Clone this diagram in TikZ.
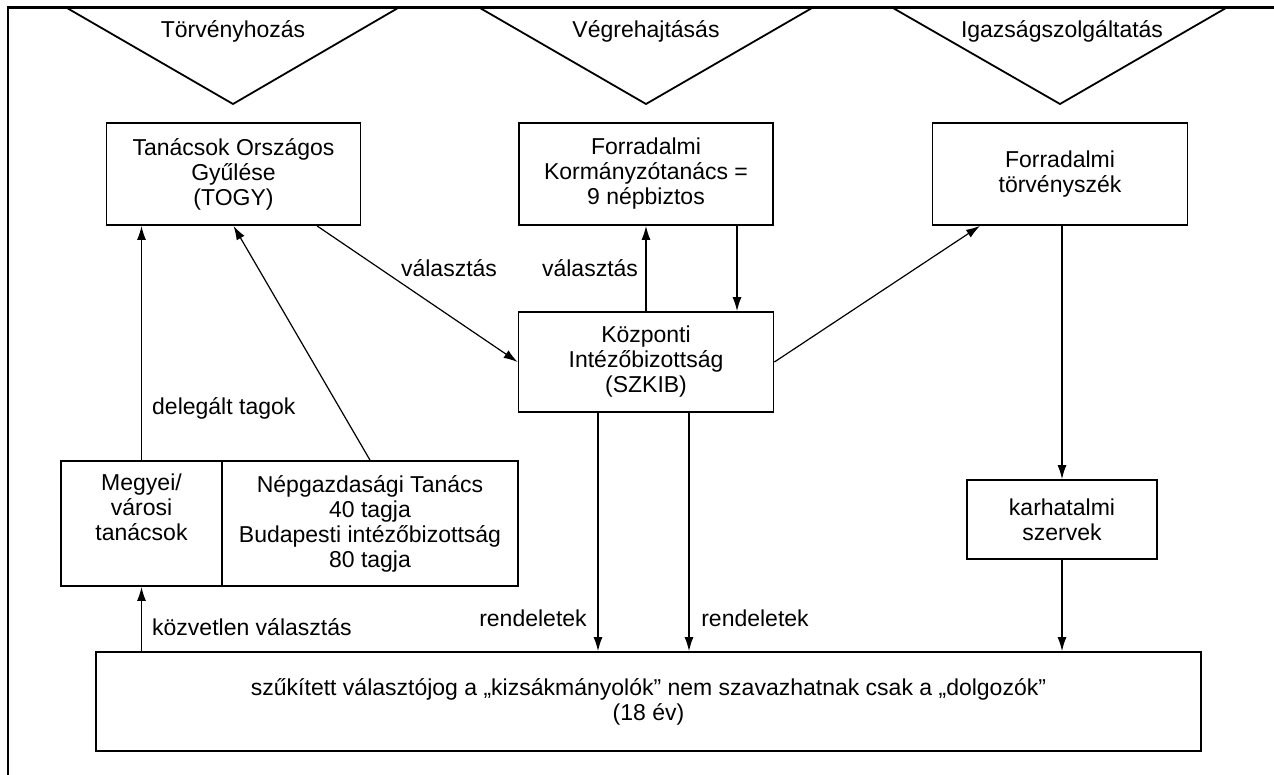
\documentclass[tikz,border=0pt]{standalone}
\usepackage{fontspec}
\setmainfont{Liberation Sans}
\usetikzlibrary{arrows.meta}
\tikzset{
  box/.style={draw, line width=1.8pt, inner sep=0pt, align=center, font=\fontsize{23}{25}\selectfont},
  lbl/.style={inner sep=0pt, font=\fontsize{23}{25}\selectfont},
  arr/.style={line width=1.2pt, -{Latex[length=14pt,width=9pt]}},
  tri/.style={line width=1.8pt},
}
\begin{document}
\begin{tikzpicture}[x=1pt,y=-1pt]
\useasboundingbox (0,0) rectangle (1274,775);
% frame
\draw[line width=1.6pt] (8,8) -- (8,776);
\draw[line width=3pt] (7,8) -- (1275,8);
% triangles
\draw[tri] (67,8) -- (233,104) -- (398,8);
\draw[tri] (480,8) -- (646,104) -- (812,8);
\draw[tri] (893,8) -- (1060,104) -- (1226,8);
\node[lbl, anchor=base] (t1) at (233,38) {Törvényhozás};
\node[lbl, anchor=base] (t2) at (646,38) {Végrehajtásás};
\node[lbl, anchor=base] (t3) at (1062,38) {Igazságszolgáltatás};
% boxes
\node[box, minimum width=254pt, minimum height=102pt] (togy) at (233.5,174) {Tanácsok Országos\\Gyűlése\\(TOGY)};
\node[box, minimum width=254pt, minimum height=102pt] (kt) at (646,174) {Forradalmi\\Kormányzótanács =\\9 népbiztos};
\node[box, minimum width=255pt, minimum height=102pt] (tsz) at (1060,174) {Forradalmi\\törvényszék};
\node[box, minimum width=255pt, minimum height=100pt] (szkib) at (646,362) {Központi\\Intézőbizottság\\(SZKIB)};
\node[box, minimum width=161pt, minimum height=125pt] (megyei) at (141.5,523.5) {Megyei/\\városi\\tanácsok\\\strut};
\node[box, minimum width=296pt, minimum height=125pt] (nepg) at (370,523.5) {Népgazdasági Tanács\\40 tagja\\Budapesti intézőbizottság\\80 tagja};
\node[box, minimum width=190pt, minimum height=79pt] (karh) at (1062,519.5) {karhatalmi\\szervek};
\node[box, minimum width=1105pt, minimum height=99pt] (bottom) at (648.5,701.5) {szűkített választójog a „kizsákmányolók” nem szavazhatnak csak a „dolgozók”\\(18 év)};
% connectors
\draw[arr] (megyei.north) -- (megyei.north |- togy.south);
\draw[arr] (nepg.north) -- (togy.south);
\draw[arr] ([xshift=83.5pt]togy.south) -- (szkib.west);
\draw[arr] (szkib.north) -- (kt.south);
\draw[arr] ([xshift=91pt]kt.south) -- ([xshift=91pt]szkib.north);
\draw[arr] (szkib.east) -- ([xshift=-80pt]tsz.south);
\draw[arr] (tsz.south -| karh.north) -- (karh.north);
\draw[arr] (karh.south) -- (karh.south |- bottom.north);
\draw[arr] ([xshift=-48pt]szkib.south) -- ([xshift=-48pt]szkib.south |- bottom.north);
\draw[arr] ([xshift=43pt]szkib.south) -- ([xshift=43pt]szkib.south |- bottom.north);
\draw[arr] (bottom.north -| megyei.south) -- (megyei.south);
% labels
\node[lbl] (l1) at (449,268) {választás};
\node[lbl] (l2) at (590,268) {választás};
\node[lbl, anchor=west] (l3) at (152,408) {delegált tagok};
\node[lbl] (l4) at (533,618) {rendeletek};
\node[lbl] (l5) at (755,618) {rendeletek};
\node[lbl, anchor=west] (l6) at (152,627) {közvetlen választás};
\end{tikzpicture}
\end{document}
